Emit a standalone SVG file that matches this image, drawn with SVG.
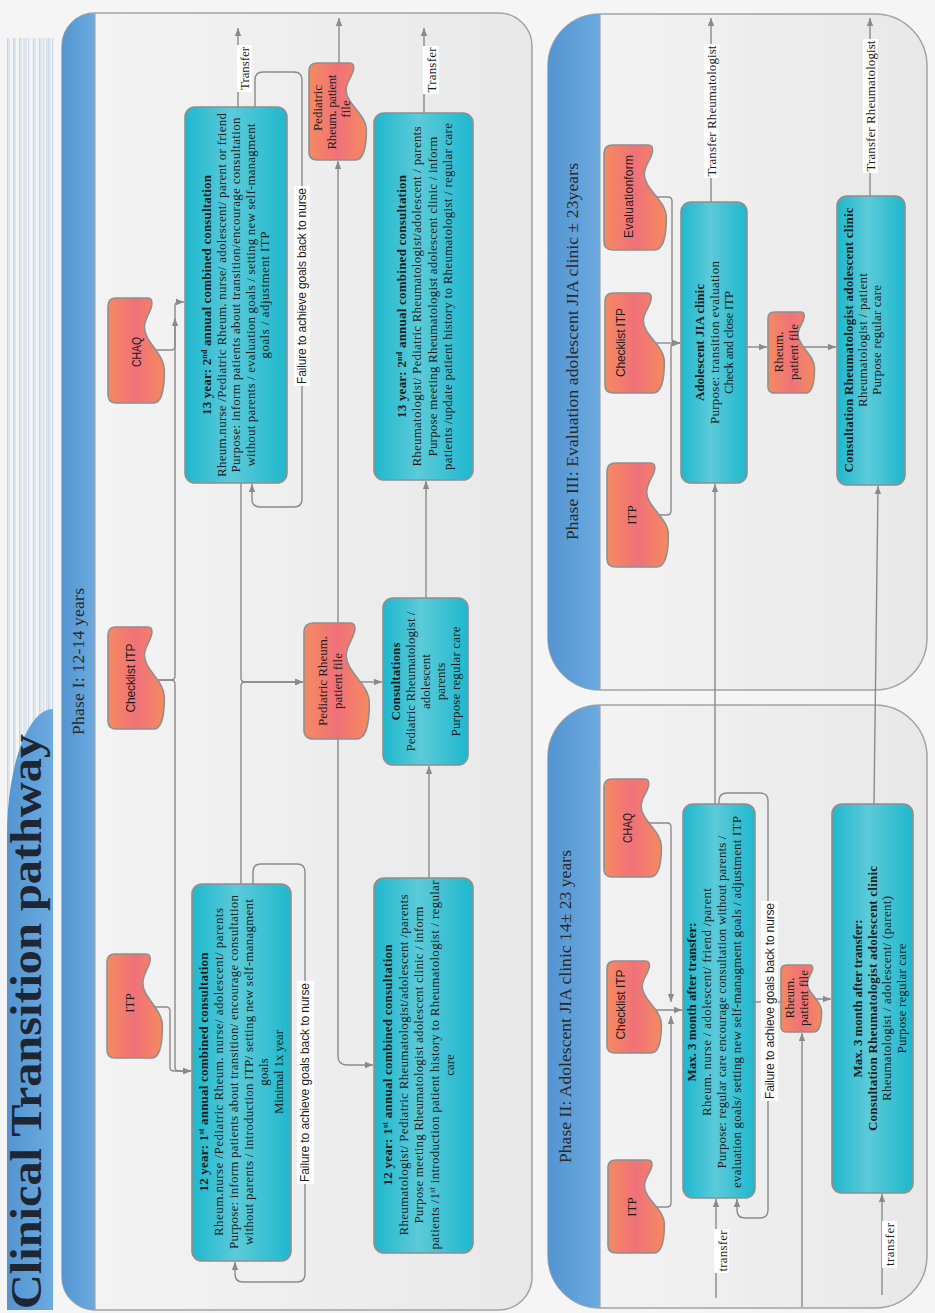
<svg xmlns="http://www.w3.org/2000/svg" width="935" height="1313" viewBox="0 0 935 1313">
<defs>
<linearGradient id="gBand" x1="0" y1="0" x2="0" y2="1"><stop offset="0" stop-color="#5395d2"/><stop offset="1" stop-color="#6caadf"/></linearGradient>
<linearGradient id="gTeal" x1="0" y1="0" x2="0" y2="1"><stop offset="0" stop-color="#1eb8ce"/><stop offset="0.45" stop-color="#5ccad9"/><stop offset="1" stop-color="#1eb8ce"/></linearGradient>
<linearGradient id="gOr" x1="0" y1="0" x2="0" y2="1"><stop offset="0" stop-color="#f58a60"/><stop offset="0.5" stop-color="#f07179"/><stop offset="1" stop-color="#f58a5f"/></linearGradient>
<linearGradient id="gPanel" x1="0" y1="0" x2="0" y2="1"><stop offset="0" stop-color="#f4f4f4"/><stop offset="1" stop-color="#e8e8e8"/></linearGradient>
<marker id="ah" viewBox="0 0 10 10" refX="10" refY="5" markerWidth="9" markerHeight="8" markerUnits="userSpaceOnUse" orient="auto"><path d="M0,1 L10,5 L0,9 Z" fill="#8a8a8a"/></marker>
<path id="docShape" class="doc" vector-effect="non-scaling-stroke" d="M8,0 H92 Q100,0 100,8 V39.2 Q100,43.7 94,43.1 C86,42 81,35.8 72,35.8 C58,35.8 47,55.4 31,55.4 C12,55.4 0,52.1 0,44.8 V8 Q0,0 8,0 Z"/>
<style>
.t{font-family:"Liberation Serif",serif;font-size:13px;fill:#1b1b1b;text-anchor:middle}
.b{font-weight:bold}
.s{font-family:"Liberation Sans",sans-serif;font-size:12px}
.ph{font-family:"Liberation Serif",serif;font-size:17.5px;fill:#2a2a2a;text-anchor:middle}
.panel{fill:url(#gPanel);stroke:#a3a3a3;stroke-width:1.5}
.band{fill:url(#gBand)}
.sep{stroke:#a3a3a3;stroke-width:1.2}
.box{fill:url(#gTeal);stroke:#8f8f8f;stroke-width:1.6}
.doc{fill:url(#gOr);stroke:#8f8f8f;stroke-width:1.6}
.c{fill:none;stroke:#8a8a8a;stroke-width:1.4}
.a{marker-end:url(#ah)}
.bg{fill:#ffffff}
.sup{font-size:8px}
.stripe{stroke:#c5d4e8;stroke-width:1}
</style>
</defs>
<rect x="0" y="0" width="935" height="1313" fill="#f5f5f5"/>
<g transform="translate(0,1313) rotate(-90)">
<g id="title">
<g id="stripes">
<line class="stripe" x1="473" y1="7.5" x2="1275" y2="7.5"/><line class="stripe" x1="473" y1="9" x2="1275" y2="9"/>
<line class="stripe" x1="473" y1="13.5" x2="1275" y2="13.5"/><line class="stripe" x1="473" y1="15" x2="1275" y2="15"/>
<line class="stripe" x1="473" y1="19.5" x2="1275" y2="19.5"/><line class="stripe" x1="473" y1="21" x2="1275" y2="21"/>
<line class="stripe" x1="473" y1="24" x2="1275" y2="24"/><line class="stripe" x1="473" y1="26" x2="1275" y2="26"/>
<line class="stripe" x1="473" y1="28.7" x2="1275" y2="28.7"/><line class="stripe" x1="473" y1="33.3" x2="1275" y2="33.3"/>
<line class="stripe" x1="473" y1="35" x2="1275" y2="35"/><line class="stripe" x1="473" y1="39.3" x2="1275" y2="39.3"/>
<line class="stripe" x1="473" y1="41" x2="1275" y2="41"/><line class="stripe" x1="473" y1="43.7" x2="1275" y2="43.7"/>
<line class="stripe" x1="473" y1="46.7" x2="1275" y2="46.7"/><line class="stripe" x1="473" y1="48.3" x2="1275" y2="48.3"/>
<line class="stripe" x1="473" y1="50" x2="1275" y2="50"/><line class="stripe" x1="473" y1="52.7" x2="1275" y2="52.7"/>
</g>
<path class="band" d="M3,7 H477 A127,46 0 0 1 604,53 H3 Z"/>
<text x="4" y="41" font-family="Liberation Serif, serif" font-weight="bold" font-size="44" textLength="575" lengthAdjust="spacingAndGlyphs" fill="#1e2633">Clinical Transition pathway</text>
</g>
<g id="panels">
<rect class="panel" x="3" y="62" width="1297" height="470" rx="33"/>
<path class="band" d="M3,95 A33,33 0 0 1 36,62 H1267 A33,33 0 0 1 1300,95 Z"/>
<line class="sep" x1="3" y1="95" x2="1300" y2="95"/>
<text class="ph" x="651.5" y="84" textLength="147">Phase I: 12-14 years</text>
<rect class="panel" x="623" y="548" width="676" height="379" rx="52"/>
<path class="band" d="M623,600 A52,52 0 0 1 675,548 H1247 A52,52 0 0 1 1299,600 Z"/>
<line class="sep" x1="623" y1="600" x2="1299" y2="600"/>
<text class="ph" x="961.5" y="578" textLength="377">Phase III: Evaluation adolescent JIA clinic ± 23years</text>
<rect class="panel" x="5" y="548" width="603" height="379" rx="52"/>
<path class="band" d="M5,600 A52,52 0 0 1 57,548 H556 A52,52 0 0 1 608,600 Z"/>
<line class="sep" x1="5" y1="600" x2="608" y2="600"/>
<text class="ph" x="306.5" y="571" textLength="313">Phase II: Adolescent JIA clinic 14± 23 years</text>
</g>
<g id="connectors">
<path class="c a" d="M306,150 V166 Q306,170 302,170 H246 Q242,170 242,174 V191"/>
<path class="c a" d="M633,150 V171 Q633,175 629,175 H246 Q242,175 242,179 V191"/>
<path class="c a" d="M633,150 V171 Q633,175 637,175 H995"/>
<path class="c a" d="M963,150 V171 Q963,175 967,175 H1007 Q1011,175 1011,179 V184"/>
<path class="c a" d="M429,241 H627 Q631,241 631,245 V303"/>
<path class="c a" d="M830,241 H635 Q631,241 631,245 V303"/>
<path class="c a" d="M429,253 H441 Q449,253 449,261 V297 Q449,305 441,305 H39 Q31,305 31,297 V243 Q31,235 39,235 H51"/>
<path class="c a" d="M1206,255 H1233 Q1241,255 1241,263 V294 Q1241,302 1233,302 H814 Q806,302 806,294 V260 Q806,252 814,252 H829"/>
<path class="c a" d="M1206,238 H1285"/>
<path class="c a" d="M680,338 H1152"/>
<path class="c a" d="M1250,339 H1295"/>
<path class="c a" d="M631,356 V382"/>
<path class="c a" d="M580,338 H257 Q248,338 248,347 V373"/>
<path class="c a" d="M435,429 H547"/>
<path class="c a" d="M715,426 H832"/>
<path class="c a" d="M1200,424 H1285"/>
<path class="c a" d="M1116,650 V668 Q1116,672 1112,672 H974 Q970,672 970,676 V680"/>
<path class="c a" d="M970,650 V680"/>
<path class="c a" d="M798,650 V667 Q798,671 802,671 H966 Q970,671 970,675 V680"/>
<path class="c a" d="M966,747 V767"/>
<path class="c a" d="M966,800 V836"/>
<path class="c a" d="M1111,711 H1295"/>
<path class="c a" d="M1117,870 H1295"/>
<path class="c a" d="M509,715 H829"/>
<path class="c a" d="M509,874 L827,878"/>
<path class="c a" d="M490,645 V667 Q490,671 486,671 H311"/>
<path class="c a" d="M106,650 V667 Q106,671 110,671 H297"/>
<path class="c a" d="M303,648 V682"/>
<path class="c" d="M311,755 V781"/>
<path class="c a" d="M314,810 V831"/>
<path class="c a" d="M6,802 H280"/>
<path class="c a" d="M15,716 H114"/>
<path class="c a" d="M18,882 H119"/>
<path class="c a" d="M509,719 H512 Q520,719 520,727 V760 Q520,768 512,768 H103 Q95,768 95,760 V745 Q95,737 103,737 H114"/>
<rect class="bg" x="1221" y="237" width="47" height="15"/>
<text class="t" x="1244.5" y="249" font-size="12.5" textLength="43">Transfer</text>
<rect class="bg" x="1219" y="423" width="48" height="16"/>
<text class="t" x="1243" y="436" font-size="12.5" textLength="45">Transfer</text>
<rect class="bg" x="129" y="297" width="203" height="17"/>
<text class="t s" x="230.5" y="309" textLength="199">Failure to achieve goals back to nurse</text>
<rect class="bg" x="927" y="294" width="200" height="16"/>
<text class="t s" x="1027" y="306" textLength="196">Failure to achieve goals back to nurse</text>
<rect class="bg" x="1135" y="704" width="134" height="15"/>
<text class="t" x="1202" y="716" textLength="131">Transfer Rheumatologist</text>
<rect class="bg" x="1140" y="863" width="134" height="15"/>
<text class="t" x="1207" y="875" textLength="131">Transfer Rheumatologist</text>
<rect class="bg" x="40" y="714" width="44" height="15"/>
<text class="t" x="62" y="727" textLength="41">transfer</text>
<rect class="bg" x="45" y="882" width="47" height="15"/>
<text class="t" x="68.5" y="894" textLength="43">transfer</text>
<rect class="bg" x="212" y="761" width="200" height="17"/>
<text class="t s" x="312" y="774" textLength="196">Failure to achieve goals back to nurse</text>
</g>
<g id="n-itp1"><use href="#docShape" transform="translate(255,107) scale(1.04,1)"/><text class="t" x="310" y="134">ITP</text></g>
<g id="n-checklist1"><use href="#docShape" transform="translate(584,108) scale(1.02,1.018)"/><text class="t s" x="635" y="135" textLength="69">Checklist ITP</text></g>
<g id="n-chaq1"><use href="#docShape" transform="translate(910,108) scale(1.05,1.018)"/><text class="t s" x="961" y="141" textLength="30" lengthAdjust="spacingAndGlyphs">CHAQ</text></g>
<g id="n-pedfile-mid"><use href="#docShape" transform="translate(574,304) scale(1.16,1.179)"/><text class="t" x="632" y="327" textLength="90">Pediatric Rheum.</text><text class="t" x="632" y="342">patient file</text></g>
<g id="n-pedfile-top"><use href="#docShape" transform="translate(1153,309) scale(0.97,1.036)"/><text class="t" x="1205" y="322">Pediatric</text><text class="t" x="1201" y="336" textLength="75">Rheum. patient</text><text class="t" x="1204" y="350">file</text></g>
<g id="n-12y-nurse"><rect class="box" x="52" y="192" width="377" height="99" rx="10"/>
<text class="t b" x="241" y="208" textLength="239">12 year: 1<tspan class="sup" baseline-shift="super">st</tspan> annual combined consultation</text>
<text class="t" x="241" y="223" textLength="328">Rheum.nurse /Pediatric Rheum. nurse/ adolescent/ parents</text>
<text class="t" x="241" y="238" textLength="354">Purpose: inform patients about transition/ encourage consultation</text>
<text class="t" x="241" y="253" textLength="346">without parents / introduction ITP/ setting new self-managment</text>
<text class="t" x="241" y="268">goals</text>
<text class="t" x="241" y="283" textLength="84">Minimal 1x year</text></g>
<g id="n-13y-nurse"><rect class="box" x="830" y="185" width="376" height="102" rx="10"/>
<text class="t b" x="1018" y="211" textLength="240">13 year: 2<tspan class="sup" baseline-shift="super">nd</tspan> annual combined consultation</text>
<text class="t" x="1018" y="225.5" textLength="364">Rheum.nurse /Pediatric Rheum. nurse/ adolescent/ parent or friend</text>
<text class="t" x="1018" y="240" textLength="355">Purpose:  inform patients about transition/encourage consultation</text>
<text class="t" x="1018" y="254.5" textLength="343">without parents / evaluation goals / setting new self-managment</text>
<text class="t" x="1018" y="269" textLength="127">goals /  adjustment ITP</text></g>
<g id="n-consultations"><rect class="box" x="548" y="383" width="167" height="85" rx="10"/>
<text class="t b" x="631.5" y="400" textLength="78">Consultations</text>
<text class="t" x="631.5" y="415" textLength="140">Pediatric Rheumatologist /</text>
<text class="t" x="631.5" y="430">adolescent</text>
<text class="t" x="631.5" y="445">parents</text>
<text class="t" x="631.5" y="460" textLength="110">Purpose regular care</text></g>
<g id="n-12y-rheum"><rect class="box" x="60" y="374" width="375" height="99" rx="10"/>
<text class="t b" x="248" y="392" textLength="241">12 year: 1<tspan class="sup" baseline-shift="super">st</tspan> annual combined consultation</text>
<text class="t" x="248" y="407.5" textLength="341">Rheumatologist/ Pediatric Rheumatologist/adolescent /parents</text>
<text class="t" x="248" y="423" textLength="317">Purpose meeting Rheumatologist adolescent clinic / inform</text>
<text class="t" x="248" y="438.5" textLength="369">patients /1<tspan class="sup" baseline-shift="super">st</tspan> introduction patient history to Rheumatologist / regular</text>
<text class="t" x="248" y="454">care</text></g>
<g id="n-13y-rheum"><rect class="box" x="833" y="374" width="367" height="99" rx="10"/>
<text class="t b" x="1016.5" y="406" textLength="243">13 year: 2<tspan class="sup" baseline-shift="super">nd</tspan> annual combined consultation</text>
<text class="t" x="1016.5" y="421" textLength="340">Rheumatologist/ Pediatric Rheumatologist/adolescent / parents</text>
<text class="t" x="1016.5" y="437" textLength="320">Purpose meeting Rheumatologist adolescent clinic / inform</text>
<text class="t" x="1016.5" y="452" textLength="347">patients /update patient history to Rheumatologist / regular care</text></g>
<g id="n-evaluationform"><use href="#docShape" transform="translate(1063,604) scale(1.05,1.125)"/><text class="t s" x="1116.5" y="633" textLength="83">Evaluationform</text></g>
<g id="n-checklist3"><use href="#docShape" transform="translate(920,605) scale(1,1.071)"/><text class="t s" x="970.5" y="625" textLength="69">Checklist ITP</text></g>
<g id="n-itp3"><use href="#docShape" transform="translate(746,607) scale(1.04,1.107)"/><text class="t" x="798" y="636">ITP</text></g>
<g id="n-file3"><use href="#docShape" transform="translate(920,768) scale(0.81,0.839)"/><text class="t" x="961" y="783" font-size="12">Rheum.</text><text class="t" x="961" y="798" font-size="12">patient file</text></g>
<g id="n-adolescent-clinic"><rect class="box" x="830" y="681" width="281" height="66" rx="10"/>
<text class="t b" x="970.5" y="704" textLength="117">Adolescent JIA clinic</text>
<text class="t" x="970.5" y="719" textLength="163">Purpose: transition evaluation</text>
<text class="t" x="970.5" y="733" textLength="103">Check and close ITP</text></g>
<g id="n-consult-rheum3"><rect class="box" x="828" y="837" width="289" height="68" rx="10"/>
<text class="t b" x="973" y="853" textLength="265">Consultation Rheumatologist adolescent clinic</text>
<text class="t" x="973" y="867" textLength="134">Rheumatologist / patient</text>
<text class="t" x="973" y="881" textLength="110">Purpose regular care</text></g>
<g id="n-chaq2"><use href="#docShape" transform="translate(436,604) scale(0.98,1.036)"/><text class="t s" x="485" y="632" textLength="30" lengthAdjust="spacingAndGlyphs">CHAQ</text></g>
<g id="n-checklist2"><use href="#docShape" transform="translate(260,607) scale(0.92,0.982)"/><text class="t s" x="308.5" y="625" textLength="70">Checklist ITP</text></g>
<g id="n-itp2"><use href="#docShape" transform="translate(60,608) scale(0.93,1.018)"/><text class="t" x="106" y="636">ITP</text></g>
<g id="n-file2"><use href="#docShape" transform="translate(281,781) scale(0.67,0.732)"/><text class="t" x="315" y="794" font-size="12">Rheum.</text><text class="t" x="315" y="808" font-size="12">patient file</text></g>
<g id="n-max3-nurse"><rect class="box" x="115" y="683" width="394" height="72" rx="10"/>
<text class="t b" x="311" y="696" textLength="159">Max. 3 month after transfer:</text>
<text class="t" x="311" y="711" textLength="228">Rheum. nurse / adolescent/ friend /parent</text>
<text class="t" x="311" y="726" textLength="333">Purpose: regular care encourage consultation without parents /</text>
<text class="t" x="311" y="741" textLength="372">evaluation goals/ setting new self-managment goals /  adjustment ITP</text></g>
<g id="n-max3-rheum"><rect class="box" x="120" y="832" width="389" height="81" rx="10"/>
<text class="t b" x="314.5" y="862" textLength="158">Max. 3 month after transfer:</text>
<text class="t b" x="314.5" y="877" textLength="265">Consultation Rheumatologist adolescent clinic</text>
<text class="t" x="314.5" y="891" textLength="205">Rheumatologist / adolescent/ (parent)</text>
<text class="t" x="314.5" y="906" textLength="110">Purpose regular care</text></g>
</g>
</svg>
